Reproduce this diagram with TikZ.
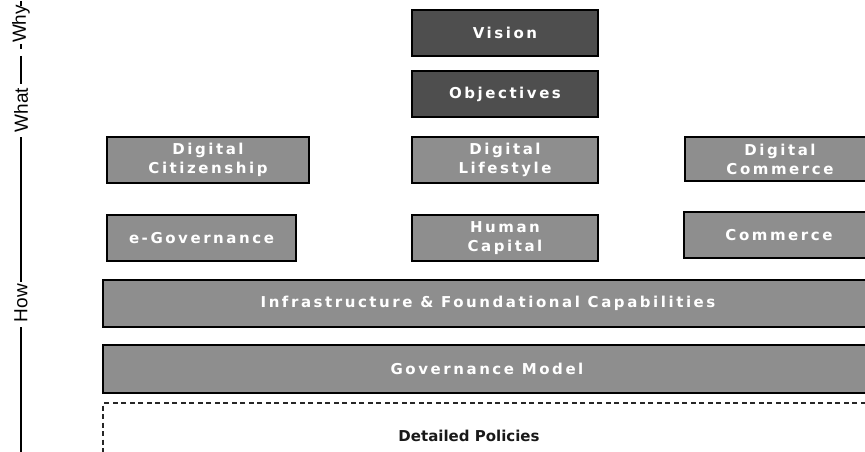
\documentclass[tikz,border=0pt]{standalone}
\usepackage{fontspec}
\setmainfont{DejaVu Sans}
\newfontfamily\boxfont[LetterSpace=17]{DejaVu Sans}
\newfontfamily\axisfont{Liberation Sans}
\definecolor{midgray}{HTML}{8E8E8E}
\definecolor{darkgray2}{HTML}{4E4E4E}
\begin{document}
\begin{tikzpicture}[x=1pt,y=-1pt,
  box/.style={draw=black, line width=1.2pt, fill=midgray, text=white,
    font=\boxfont\bfseries\fontsize{15}{19}\selectfont, align=center,
    inner sep=0pt, minimum height=46pt},
  darkbox/.style={box, fill=darkgray2},
  bartext/.style={font=\boxfont\bfseries\fontsize{15}{19}\selectfont, text=white},
  axislabel/.style={rotate=90, font=\axisfont\fontsize{19}{19}\selectfont, inner sep=0pt},
  axisline/.style={line width=2.6pt, black}]
\useasboundingbox (0,0) rectangle (865,452);
\clip (0,0) rectangle (865,452);
% central column
\node[darkbox, minimum width=186pt] (vision) at (505,33) {Vision};
\node[darkbox, minimum width=186pt] (objectives) at (505,94) {Objectives};
\node[box, minimum width=186pt] (dlife) at (505,160) {Digital\\Lifestyle};
\node[box, minimum width=186pt] (human) at (505,238) {Human\\Capital};
% left column
\node[box, minimum width=202pt] (dcit) at (208,160) {Digital\\Citizenship};
\node[box, minimum width=189pt] (egov) at (201.5,238) {e-Governance};
% right column
\node[box, minimum width=190pt, minimum height=44pt] (dcom) at (780,159) {Digital\\Commerce};
\node[box, minimum width=190pt] (commerce) at (779,235) {Commerce};
% wide bars
\node[box, minimum width=772pt, minimum height=47pt] (infra) at (489,303.5) {};
\node[bartext] (infratext) at (488,303.5) {Infrastructure \& Foundational Capabilities};
\node[box, minimum width=772pt, minimum height=48pt] (gov) at (489,369) {};
\node[bartext] (govtext) at (487,369) {Governance Model};
\node[draw=black!85, dash pattern=on 5pt off 3.5pt, line width=1.1pt, fill=white, minimum width=772pt, minimum height=60pt, inner sep=0pt] (policies) at (489,433) {};
\node[font=\bfseries\fontsize{15}{16}\selectfont, text=black!90] (policiestext) at (469,436) {Detailed Policies};
% left axis
\node[axislabel] (why) at (21,24) {Why};
\node[axislabel] (what) at (21,110) {What};
\node[axislabel] (how) at (21,303) {How};
\coordinate (bottom) at (21,452);
\draw[axisline] (21,1) -- (21,6);
\draw[axisline] (21,44) -- (21,49);
\draw[axisline] (21,56) -- (21,84);
\draw[axisline] (what.west) ++(0,5) -- (21,282);
\draw[axisline] (how.west) ++(0,5) -- (bottom);
\end{tikzpicture}
\end{document}
